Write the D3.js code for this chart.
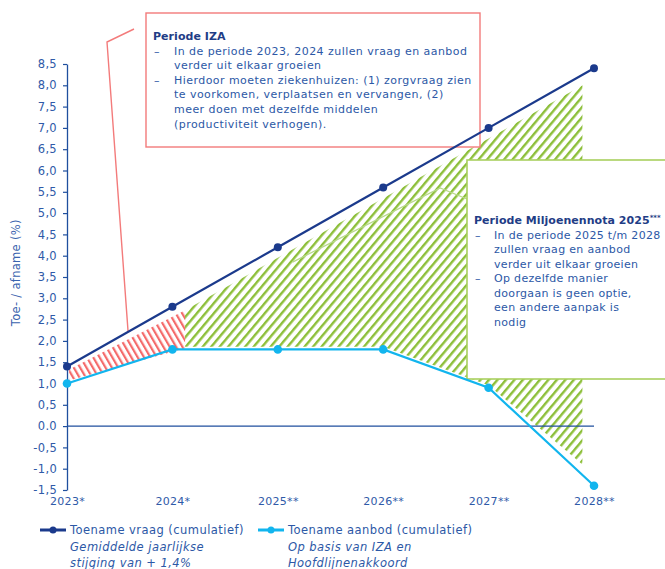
<!DOCTYPE html>
<html><head><meta charset="utf-8">
<script src="https://cdn.jsdelivr.net/npm/d3@7"></script>
<style>body{margin:0;background:#fff;} svg{display:block;font-family:"DejaVu Sans",sans-serif;}</style>
</head><body><svg id="chart" width="665" height="569"></svg>
<script>
// ---- data ----
const years = ["2023*","2024*","2025**","2026**","2027**","2028**"];
const demand = [1.4, 2.8, 4.2, 5.6, 7.0, 8.4];   // Toename vraag (cumulatief)
const supply = [1.0, 1.8, 1.8, 1.8, 0.9, -1.4];  // Toename aanbod (cumulatief)
const yTicks = [-1.5,-1.0,-0.5,0,0.5,1.0,1.5,2.0,2.5,3.0,3.5,4.0,4.5,5.0,5.5,6.0,6.5,7.0,7.5,8.0,8.5];
const yTickLabels = ["-1,5","-1,0","-0,5","0.0","0,5","1,0","1,5","2,0","2,5","3,0","3,5","4,0","4,5","5,0","5,5","6,0","6,5","7,0","7,5","8,0","8,5"];
// gap areas (x = fractional year index)
const izaX = [0.02, 1.12];
const izaTop = [1.33, 2.72];
const izaBottom = [1.07, 1.83];
const mnX = [1.12, 2, 3, 4, 4.89];
const mnTop = [2.72, 3.95, 5.35, 6.75, 8.0];
const mnBottom = [1.86, 1.86, 1.86, 0.96, -0.9];
const izaText = ["In de periode 2023, 2024 zullen vraag en aanbod|verder uit elkaar groeien",
  "Hierdoor moeten ziekenhuizen: (1) zorgvraag zien|te voorkomen, verplaatsen en vervangen, (2)|meer doen met dezelfde middelen|(productiviteit verhogen)."];
const mnText = ["In de periode 2025 t/m 2028|zullen vraag en aanbod|verder uit elkaar groeien",
  "Op dezelfde manier|doorgaan is geen optie,|een andere aanpak is|nodig"];

const svg = d3.select("#chart");
const x = d3.scaleLinear().domain([0, 5]).range([67, 594]);
const y = d3.scaleLinear().domain([-1.5, 8.5]).range([490, 64]);

const navy = "#1b3a8c", light = "#12b5ee", axisBlue = "#1f4f9e", txt = "#2c58a6", ttl = "#1f3d86";
const redC = "#f37b7b", greenC = "#8dbf3a", greenBox = "#a9d05f";

// patterns
const defs = svg.append("defs");
const pr = defs.append("pattern").attr("id","hRed").attr("patternUnits","userSpaceOnUse")
  .attr("width",5.5).attr("height",5.5).attr("patternTransform","rotate(-30)");
pr.append("rect").attr("width",2.2).attr("height",5.5).attr("fill","#f46a6a");
const pg = defs.append("pattern").attr("id","hGreen").attr("patternUnits","userSpaceOnUse")
  .attr("width",6.5).attr("height",6.5).attr("patternTransform","rotate(40)");
pg.append("rect").attr("width",2.4).attr("height",6.5).attr("fill",greenC);

const area = d3.area().x(d => x(d.x)).y0(d => y(d.b)).y1(d => y(d.t));
svg.append("path").datum(izaX.map((v,i)=>({x:v,t:izaTop[i],b:izaBottom[i]})))
  .attr("d", area).attr("fill","url(#hRed)");
svg.append("path").datum(mnX.map((v,i)=>({x:v,t:mnTop[i],b:mnBottom[i]})))
  .attr("d", area).attr("fill","url(#hGreen)");

// green pointer
svg.append("polyline").attr("points", [[467,199],[x(3.54),y(5.59)],[x(2.14),y(3.85)]].map(p=>p.join(",")).join(" "))
  .attr("fill","none").attr("stroke","#b8d98a").attr("stroke-width",1.3);

// y axis
const ya = svg.append("g").attr("transform",`translate(${x(0)},0)`)
  .call(d3.axisLeft(y).tickValues(yTicks).tickFormat((d,i)=>yTickLabels[i]).tickSize(4).tickSizeOuter(0).tickPadding(6));
ya.select(".domain").attr("stroke",axisBlue).attr("stroke-width",1.3);
ya.selectAll(".tick line").attr("stroke",axisBlue).attr("stroke-width",1.2);
ya.selectAll("text").attr("fill","#2f5aa8").attr("font-size",11.5).attr("letter-spacing",0.3).attr("font-family","DejaVu Sans");

// zero line
svg.append("line").attr("x1",x(0)).attr("x2",x(5)).attr("y1",y(0)).attr("y2",y(0))
  .attr("stroke",axisBlue).attr("stroke-width",1.3);

// x labels
const xa = svg.append("g").attr("transform",`translate(0,${y(-1.5)})`)
  .call(d3.axisBottom(x).tickValues(d3.range(years.length)).tickFormat(i=>years[i]).tickSize(0).tickPadding(7));
xa.select(".domain").remove();
xa.selectAll("text").attr("fill","#2f5aa8").attr("font-size",11).attr("letter-spacing",0.3).attr("font-family","DejaVu Sans");

// y title
svg.append("text").attr("transform",`translate(20,${y(3.6)}) rotate(-90)`).attr("text-anchor","middle")
  .attr("fill","#3a63ae").attr("font-size",11.5).attr("letter-spacing",0.3).text("Toe- / afname (%)");

// IZA box
svg.append("rect").attr("x",146).attr("y",13).attr("width",334).attr("height",134)
  .attr("fill","#fff").attr("stroke",redC).attr("stroke-width",1.4);
function writeBlock(tx, bx, y0, lh, title, items, sup, ls){
  const t = svg.append("text").attr("x",tx).attr("y",y0).attr("font-size",11).attr("letter-spacing",0.05)
    .attr("font-weight","bold").attr("fill",ttl).text(title);
  if (sup) t.append("tspan").attr("font-size",7).attr("dy",-4).text(sup);
  let yy = y0;
  items.forEach(it => {
    it.split("|").forEach((ln,j) => {
      yy += lh;
      if (j===0) svg.append("text").attr("x",tx+1).attr("y",yy).attr("font-size",11).attr("fill",txt).text("–");
      svg.append("text").attr("x",bx).attr("y",yy).attr("font-size",11).attr("letter-spacing",ls).attr("fill",txt).text(ln);
    });
  });
}
writeBlock(153, 174, 40, 14.6, "Periode IZA", izaText, null, 0.45);
// red pointer
svg.append("polyline").attr("points", [[134,29],[107,42],[x(0.58),y(2.2)]].map(p=>p.join(",")).join(" "))
  .attr("fill","none").attr("stroke",redC).attr("stroke-width",1.4);

// Miljoenennota box
svg.append("rect").attr("x",467).attr("y",160).attr("width",220).attr("height",219)
  .attr("fill","#fff").attr("stroke",greenBox).attr("stroke-width",1.6);
writeBlock(474, 494, 224, 14.5, "Periode Miljoenennota 2025", mnText, "***", 0.32);

// lines
const line = d3.line().x((d,i)=>x(i)).y(d=>y(d));
svg.append("path").datum(supply).attr("d",line).attr("fill","none").attr("stroke",light).attr("stroke-width",2.2);
svg.selectAll(".sp").data(supply).enter().append("circle").attr("cx",(d,i)=>x(i)).attr("cy",d=>y(d)).attr("r",4.3).attr("fill",light);
svg.append("path").datum(demand).attr("d",line).attr("fill","none").attr("stroke",navy).attr("stroke-width",2.2);
svg.selectAll(".dp").data(demand).enter().append("circle").attr("cx",(d,i)=>x(i)).attr("cy",d=>y(d)).attr("r",4).attr("fill",navy);

// legend
const legend = [
  {c:navy, x:40, lines:["Toename vraag (cumulatief)","Gemiddelde jaarlijkse","stijging van + 1,4%"]},
  {c:light, x:258, lines:["Toename aanbod (cumulatief)","Op basis van IZA en","Hoofdlijnenakkoord"]}
];
legend.forEach(l => {
  svg.append("line").attr("x1",l.x).attr("x2",l.x+26).attr("y1",530).attr("y2",530).attr("stroke",l.c).attr("stroke-width",3);
  svg.append("circle").attr("cx",l.x+13).attr("cy",530).attr("r",3.5).attr("fill",l.c);
  l.lines.forEach((s,i) => svg.append("text").attr("x",l.x+30).attr("y",534+i*16.5).attr("font-size",11.5)
    .attr("letter-spacing",0.45).attr("font-style", i>0 ? "italic" : "normal").attr("fill",txt).text(s));
});
</script></body></html>
